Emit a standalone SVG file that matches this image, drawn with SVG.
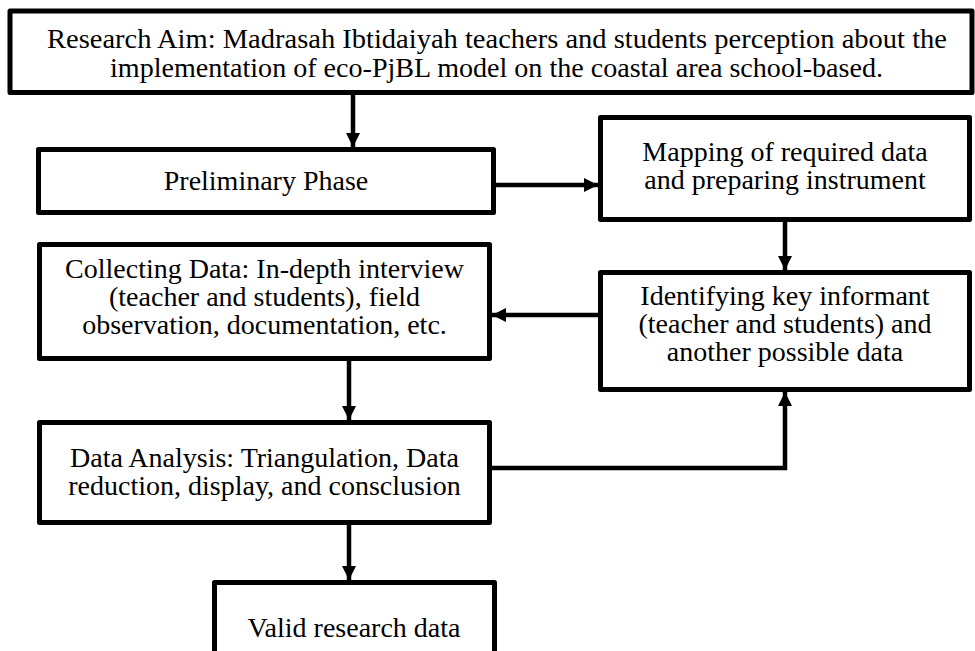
<svg xmlns="http://www.w3.org/2000/svg" width="975" height="651" viewBox="0 0 975 651">
<style>
.box{fill:#fff;stroke:#000;stroke-width:5;stroke-linejoin:round}
.t{font-family:"Liberation Serif","Times New Roman",serif;font-size:28px;fill:#000;text-anchor:middle}
.c{fill:none;stroke:#000;stroke-width:4.5}
</style>
<defs>
<marker id="ah" markerUnits="userSpaceOnUse" markerWidth="14" markerHeight="14" viewBox="0 0 14 14" refX="14" refY="7" orient="auto">
<path d="M0,0 L14,7 L0,14 Z" fill="#000"/>
</marker>
</defs>
<g id="connectors">
<path class="c" d="M353,95 V147" marker-end="url(#ah)"/>
<path class="c" d="M496,185 H598" marker-end="url(#ah)"/>
<path class="c" d="M785,222 V270" marker-end="url(#ah)"/>
<path class="c" d="M598,315 H492" marker-end="url(#ah)"/>
<path class="c" d="M349,361 V420" marker-end="url(#ah)"/>
<path class="c" d="M492,468 H785 V392" marker-end="url(#ah)"/>
<path class="c" d="M349,525 V580" marker-end="url(#ah)"/>
</g>
<g id="aim">
<rect class="box" x="10" y="11" width="962" height="81.5"/>
<text class="t" x="497" y="48" textLength="900" lengthAdjust="spacingAndGlyphs">Research Aim: Madrasah Ibtidaiyah teachers and students perception about the</text>
<text class="t" x="496.5" y="77" textLength="773" lengthAdjust="spacingAndGlyphs">implementation of eco-PjBL model on the coastal area school-based.</text>
</g>
<g id="preliminary">
<rect class="box" x="38.5" y="149.5" width="455" height="63"/>
<text class="t" x="266" y="190">Preliminary Phase</text>
</g>
<g id="mapping">
<rect class="box" x="600.5" y="117.5" width="369" height="102"/>
<text class="t" x="785" y="161">Mapping of required data</text>
<text class="t" x="785" y="189">and preparing instrument</text>
</g>
<g id="identifying">
<rect class="box" x="600.5" y="272.5" width="369" height="117"/>
<text class="t" x="785" y="305">Identifying key informant</text>
<text class="t" x="785" y="333">(teacher and students) and</text>
<text class="t" x="785" y="361">another possible data</text>
</g>
<g id="collecting">
<rect class="box" x="39.5" y="244.5" width="450" height="114"/>
<text class="t" x="264.5" y="278">Collecting Data: In-depth interview</text>
<text class="t" x="264.5" y="306">(teacher and students), field</text>
<text class="t" x="264.5" y="334">observation, documentation, etc.</text>
</g>
<g id="analysis">
<rect class="box" x="39.5" y="422.5" width="450" height="100"/>
<text class="t" x="264.5" y="467">Data Analysis: Triangulation, Data</text>
<text class="t" x="264.5" y="495">reduction, display, and consclusion</text>
</g>
<g id="valid">
<rect class="box" x="214.5" y="582.5" width="280" height="80"/>
<text class="t" x="354" y="637">Valid research data</text>
</g>
</svg>
